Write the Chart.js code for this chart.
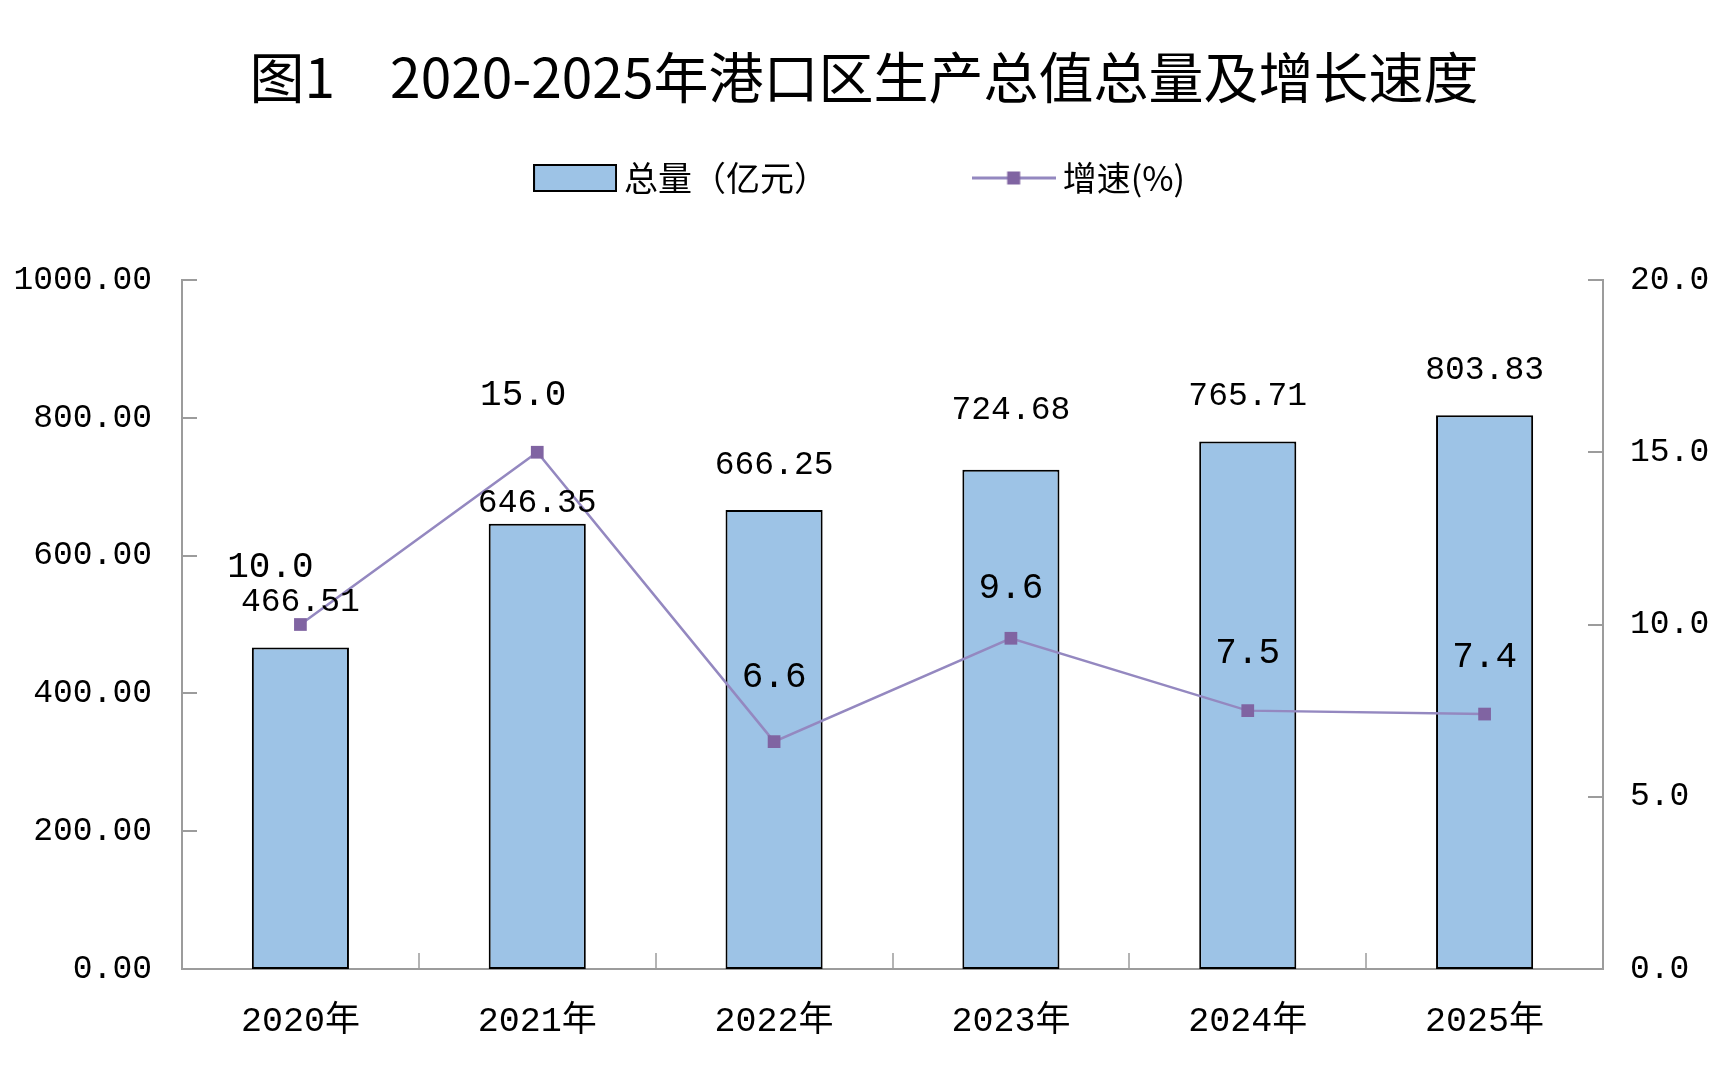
<!DOCTYPE html>
<html><head><meta charset="utf-8">
<script src="https://cdn.jsdelivr.net/npm/chart.js@4.4.1/dist/chart.umd.min.js"></script>
<style>html,body{margin:0;padding:0;background:#fff;overflow:hidden}#wrap{width:1728px;height:1074px}</style>
</head><body><div id="wrap"><canvas id="c" width="1728" height="1074"></canvas></div>
<script>
// ---- data ----
const categories = ['2020年', '2021年', '2022年', '2023年', '2024年', '2025年'];
const totalValues = [466.51, 646.35, 666.25, 724.68, 765.71, 803.83];
const growthValues = [10.0, 15.0, 6.6, 9.6, 7.5, 7.4];
const leftTicks = [0, 200, 400, 600, 800, 1000];
const rightTicks = [0, 5, 10, 15, 20];
const titleText = '图1　2020-2025年港口区生产总值总量及增长速度';
const seriesNames = ['总量（亿元）', '增速(%)'];

// ---- styles ----
const barFill = '#9DC3E6';
const barBorder = '#000000';
const lineColor = '#9488C0';
const markerColor = '#8064A2';
const axisColor = '#9C9C9C';
const monoFont = '"Liberation Mono", "Noto Sans CJK SC", monospace';
const cjkFont = '"Noto Sans CJK SC", sans-serif';
// label nudges (pixel offsets of value labels, style only)
const barLabelNudge = [0, 25, 0, -14, 0, 0];
const lineLabelNudgeX = [-30, -14, 0, 0, 0, 0];
const lineLabelNudgeY = [0, 0, -7, 7, 0, 0];
const legendGap = '　　　　\u2002 ';

function makeBarIcon() {
  const c = document.createElement('canvas');
  c.width = 84; c.height = 28;
  const g = c.getContext('2d');
  g.fillStyle = barFill; g.fillRect(1, 1, 82, 26);
  g.strokeStyle = barBorder; g.lineWidth = 2; g.strokeRect(1, 1, 82, 26);
  return c;
}
function makeLineIcon() {
  const c = document.createElement('canvas');
  c.width = 84; c.height = 14;
  const g = c.getContext('2d');
  g.strokeStyle = lineColor; g.lineWidth = 3;
  g.beginPath(); g.moveTo(0, 7); g.lineTo(84, 7); g.stroke();
  g.fillStyle = markerColor; g.fillRect(35.5, 0.5, 13, 13);
  return c;
}

const innerTicks = {
  id: 'innerTicks',
  afterDatasetsDraw(chart) {
    const {ctx, chartArea: a, scales: {x, y, y1}} = chart;
    ctx.save();
    ctx.strokeStyle = axisColor;
    ctx.lineWidth = 2;
    ctx.beginPath();
    y.ticks.forEach(t => { const py = Math.round(y.getPixelForValue(t.value)); ctx.moveTo(a.left, py); ctx.lineTo(a.left + 15, py); });
    y1.ticks.forEach(t => { const py = Math.round(y1.getPixelForValue(t.value)); ctx.moveTo(a.right, py); ctx.lineTo(a.right - 15, py); });
    ctx.stroke();
    ctx.lineWidth = 1.5;
    ctx.beginPath();
    for (let i = 0; i < categories.length - 1; i++) {
      const px = Math.round((x.getPixelForValue(i) + x.getPixelForValue(i + 1)) / 2);
      ctx.moveTo(px, a.bottom); ctx.lineTo(px, a.bottom - 16);
    }
    ctx.stroke();
    ctx.restore();
  }
};

const valueLabels = {
  id: 'valueLabels',
  afterDatasetsDraw(chart) {
    const ctx = chart.ctx;
    ctx.save();
    ctx.fillStyle = '#000';
    ctx.textAlign = 'center';
    ctx.textBaseline = 'middle';
    const barMeta = chart.getDatasetMeta(1);
    ctx.font = '33px ' + monoFont;
    barMeta.data.forEach((el, i) => {
      ctx.fillText(totalValues[i].toFixed(2), el.x, el.y - 45 + barLabelNudge[i]);
    });
    const lineMeta = chart.getDatasetMeta(0);
    ctx.font = '36px ' + monoFont;
    lineMeta.data.forEach((el, i) => {
      ctx.fillText(growthValues[i].toFixed(1), el.x + lineLabelNudgeX[i], el.y - 57 + lineLabelNudgeY[i]);
    });
    ctx.restore();
  }
};

const barIcon = makeBarIcon();
const lineIcon = makeLineIcon();

new Chart(document.getElementById('c'), {
  data: {
    labels: categories,
    datasets: [
      {
        type: 'line', label: seriesNames[1], data: growthValues, yAxisID: 'y1', order: 0,
        borderColor: lineColor, borderWidth: 2.5, tension: 0,
        pointStyle: 'rect', pointRadius: 9, pointBackgroundColor: markerColor,
        pointBorderColor: markerColor, pointBorderWidth: 0
      },
      {
        type: 'bar', label: seriesNames[0], data: totalValues, yAxisID: 'y', order: 1,
        backgroundColor: barFill, borderColor: barBorder, borderWidth: 2, borderSkipped: false,
        categoryPercentage: 1.0, barPercentage: 0.41
      }
    ]
  },
  options: {
    responsive: false,
    devicePixelRatio: 1,
    animation: false,
    layout: {padding: {left: 0, right: 0, top: 0, bottom: 0}},
    plugins: {
      tooltip: {enabled: false},
      title: {
        display: true, text: titleText, color: '#000',
        font: {family: cjkFont, size: 55, weight: 'normal', lineHeight: 1.2},
        padding: {top: 44, bottom: 41}
      },
      legend: {
        display: true, position: 'top',
        labels: {
          usePointStyle: true, pointStyleWidth: 64, padding: 10, color: '#000',
          font: {family: cjkFont, size: 34},
          generateLabels: () => [
            {text: seriesNames[0] + legendGap, pointStyle: barIcon, fillStyle: barFill, strokeStyle: barBorder, lineWidth: 0, hidden: false, datasetIndex: 1, fontColor: '#000'},
            {text: seriesNames[1], pointStyle: lineIcon, fillStyle: markerColor, strokeStyle: lineColor, lineWidth: 0, hidden: false, datasetIndex: 0, fontColor: '#000'}
          ]
        }
      },
      subtitle: {
        display: true, text: ' ', weight: 500, position: 'top',
        font: {size: 10, lineHeight: 1},
        padding: {top: 0, bottom: 65}
      }
    },
    scales: {
      x: {
        type: 'category', offset: true,
        grid: {display: false, drawTicks: false},
        border: {display: true, color: axisColor, width: 2},
        ticks: {color: '#000', font: {family: monoFont, size: 35}, padding: 32, maxRotation: 0},
        afterFit: s => { s.height = 105; }
      },
      y: {
        type: 'linear', position: 'left', min: 0, max: 1000,
        grid: {display: false, drawTicks: false},
        border: {display: true, color: axisColor, width: 2},
        afterBuildTicks: s => { s.ticks = leftTicks.map(v => ({value: v})); },
        ticks: {color: '#000', font: {family: monoFont, size: 33}, padding: 30, callback: v => Number(v).toFixed(2)},
        afterFit: s => { s.width = 182; }
      },
      y1: {
        type: 'linear', position: 'right', min: 0, max: 20,
        grid: {display: false, drawTicks: false},
        border: {display: true, color: axisColor, width: 2},
        afterBuildTicks: s => { s.ticks = rightTicks.map(v => ({value: v})); },
        ticks: {color: '#000', font: {family: monoFont, size: 33}, padding: 27, callback: v => Number(v).toFixed(1)},
        afterFit: s => { s.width = 125; }
      }
    }
  },
  plugins: [innerTicks, valueLabels]
});
</script>
</body></html>
